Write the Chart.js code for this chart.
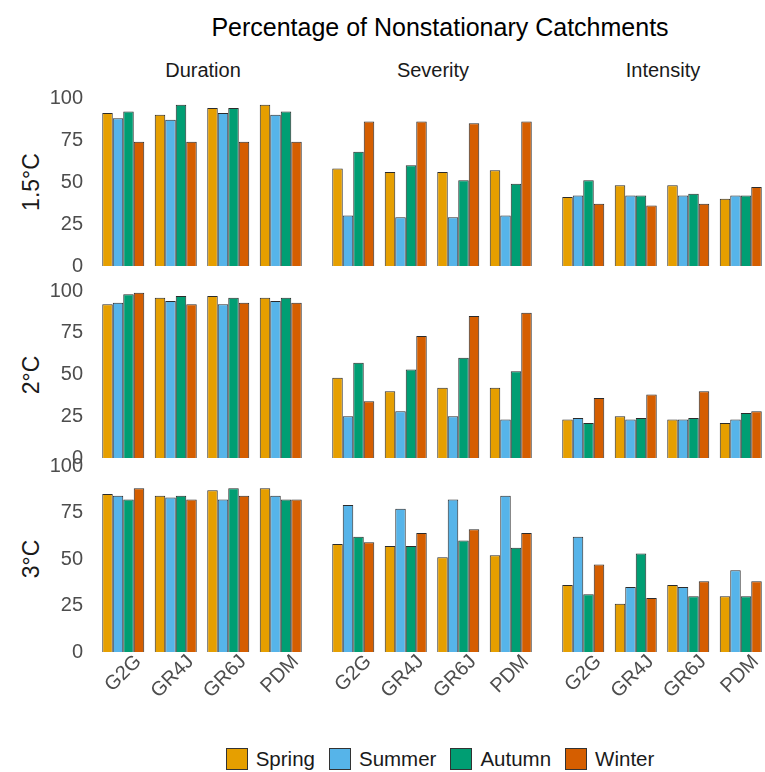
<!DOCTYPE html>
<html>
<head>
<meta charset="utf-8">
<title>Percentage of Nonstationary Catchments</title>
<script src="https://cdn.jsdelivr.net/npm/chart.js@4.4.0/dist/chart.umd.min.js"></script>
<style>
  body { margin: 0; background: #fff; font-family: "Liberation Sans", Arial, sans-serif; }
  #wrap { position: relative; width: 765px; height: 772px; overflow: hidden; background: #fff; }
  .panel { position: absolute; }
  .panel canvas { display: block; }
  .txt { position: absolute; white-space: nowrap; color: #1a1a1a; transform: translate(-50%, -50%); }
  .rot { transform: translate(-50%, -50%) rotate(-90deg); }
  #legend { position: absolute; left: 0; width: 880px; top: 747px; display: flex; justify-content: center; align-items: center; font-size: 20.5px; color: #1a1a1a; }
  #legend .item { display: flex; align-items: center; margin: 0 7px; }
  #legend .box { width: 20px; height: 20px; border: 1px solid #333; margin-right: 8px; }
</style>
</head>
<body>
<div id="wrap">
  <div class="txt" style="left:440px; top:27px; font-size:25px; color:#000;">Percentage of Nonstationary Catchments</div>
  <div id="legend"></div>
</div>
<script>
// categories
const models = ['G2G', 'GR4J', 'GR6J', 'PDM'];
const seasons = ['Spring', 'Summer', 'Autumn', 'Winter'];
const columns = ['Duration', 'Severity', 'Intensity'];
const warming = ['1.5°C', '2°C', '3°C'];

// values per panel, one row per season (Spring, Summer, Autumn, Winter), one entry per model
const duration15 = [[91, 90, 94, 96], [88, 87, 91, 90], [92, 96, 94, 92], [74, 74, 74, 74]];
const severity15 = [[58, 56, 56, 57], [30, 29, 29, 30], [68, 60, 51, 49], [86, 86, 85, 86]];
const intensity15 = [[41, 48, 48, 40], [42, 42, 42, 42], [51, 42, 43, 42], [37, 36, 37, 47]];

const duration2 = [[92, 96, 97, 96], [93, 94, 92, 94], [98, 97, 96, 96], [99, 92, 93, 93]];
const severity2 = [[48, 40, 42, 42], [25, 28, 25, 23], [57, 53, 60, 52], [34, 73, 85, 87]];
const intensity2 = [[23, 25, 23, 21], [24, 23, 23, 23], [21, 24, 24, 27], [36, 38, 40, 28]];

const duration3 = [[85, 84, 87, 88], [84, 83, 82, 84], [82, 84, 88, 82], [88, 82, 84, 82]];
const severity3 = [[58, 57, 51, 52], [79, 77, 82, 84], [62, 57, 60, 56], [59, 64, 66, 64]];
const intensity3 = [[36, 26, 36, 30], [62, 35, 35, 44], [31, 53, 30, 30], [47, 29, 38, 38]];

const yTicks = [0, 25, 50, 75, 100];

const grid = [
  [duration15, severity15, intensity15],
  [duration2, severity2, intensity2],
  [duration3, severity3, intensity3]
];

// styling / layout
const seasonColors = ['#E69F00', '#56B4E9', '#009E73', '#D55E00'];
const colLeft = [97, 327, 557];
const colWidth = 210;
const rowTop = [98, 291, 466];
const rowHeight = [168, 167, 186];
const axisGrey = '#4d4d4d';
const tickFont = { family: '"Liberation Sans", Arial, sans-serif', size: 20 };

const wrap = document.getElementById('wrap');

// strip labels
columns.forEach((name, c) => {
  const d = document.createElement('div');
  d.className = 'txt';
  d.style.left = (colLeft[c] + colWidth / 2 + 1) + 'px';
  d.style.top = '70px';
  d.style.fontSize = '20px';
  d.textContent = name;
  wrap.appendChild(d);
});
warming.forEach((name, r) => {
  const d = document.createElement('div');
  d.className = 'txt rot';
  d.style.left = '31px';
  d.style.top = (rowTop[r] + rowHeight[r] / 2) + 'px';
  d.style.fontSize = '23px';
  d.textContent = name;
  wrap.appendChild(d);
});

// legend
const legend = document.getElementById('legend');
seasons.forEach((s, i) => {
  const it = document.createElement('div');
  it.className = 'item';
  it.innerHTML = '<div class="box" style="background:' + seasonColors[i] + '"></div><span>' + s + '</span>';
  legend.appendChild(it);
});

function makePanel(values, r, c) {
  const isLeft = c === 0;
  const isBottom = r === grid.length - 1;
  const padL = isLeft ? 60 : 4;
  const padT = 14;
  const padR = 4;
  const padB = isBottom ? 80 : 14;

  let L = colLeft[c] - padL, T = rowTop[r] - padT;
  let W = colWidth + padL + padR, H = rowHeight[r] + padT + padB;
  const box = document.createElement('div');
  box.className = 'panel';
  wrap.appendChild(box);

  const build = () => {
    box.innerHTML = '';
    box.style.left = L + 'px';
    box.style.top = T + 'px';
    box.style.width = W + 'px';
    box.style.height = H + 'px';
    const canvas = document.createElement('canvas');
    canvas.width = W;
    canvas.height = H;
    canvas.style.width = W + 'px';
    canvas.style.height = H + 'px';
    box.appendChild(canvas);
    return new Chart(canvas, {
      type: 'bar',
      data: {
        labels: models,
        datasets: seasons.map((s, i) => ({
          label: s,
          data: values[i],
          backgroundColor: seasonColors[i],
          borderColor: '#2b2b2b',
          borderWidth: 1,
          categoryPercentage: 0.8,
          barPercentage: 1.0
        }))
      },
      options: {
        responsive: false,
        maintainAspectRatio: false,
        animation: false,
        devicePixelRatio: 1,
        layout: { padding: { left: isLeft ? 0 : padL, top: padT, right: padR, bottom: isBottom ? 0 : padB } },
        plugins: { legend: { display: false }, tooltip: { enabled: false } },
        scales: {
          x: {
            display: isBottom,
            offset: true,
            grid: { display: false, drawTicks: false },
            border: { display: false },
            ticks: {
              autoSkip: false,
              minRotation: 45,
              maxRotation: 45,
              padding: -2,
              labelOffset: 15,
              color: axisGrey,
              font: tickFont
            },
            afterFit: s => { s.height = padB; }
          },
          y: {
            display: isLeft,
            min: 0,
            max: 100,
            // invisible tick marks provide the gap between labels and bars
            grid: { display: false, drawTicks: true, tickLength: 14 },
            border: { display: false },
            afterBuildTicks: s => { s.ticks = yTicks.map(v => ({ value: v })); },
            ticks: { padding: 0, color: axisGrey, font: tickFont },
            afterFit: s => { s.width = padL; }
          }
        }
      }
    });
  };

  let chart = build();
  // shift/resize the canvas until the plotting area sits on the facet box
  for (let k = 0; k < 3; k++) {
    const ca = chart.chartArea;
    const wantL = colLeft[c], wantT = rowTop[r];
    const wantR = colLeft[c] + colWidth, wantB = rowTop[r] + rowHeight[r];
    const dL = (L + ca.left) - wantL, dT = (T + ca.top) - wantT;
    const dR = wantR - (L + ca.right), dB = wantB - (T + ca.bottom);
    if (Math.abs(dL) + Math.abs(dT) + Math.abs(dR) + Math.abs(dB) < 1) break;
    L -= dL; T -= dT; W += dL + dR; H += dT + dB;
    chart.destroy();
    chart = build();
  }
}

grid.forEach((rowPanels, r) => rowPanels.forEach((values, c) => makePanel(values, r, c)));
</script>
</body>
</html>
